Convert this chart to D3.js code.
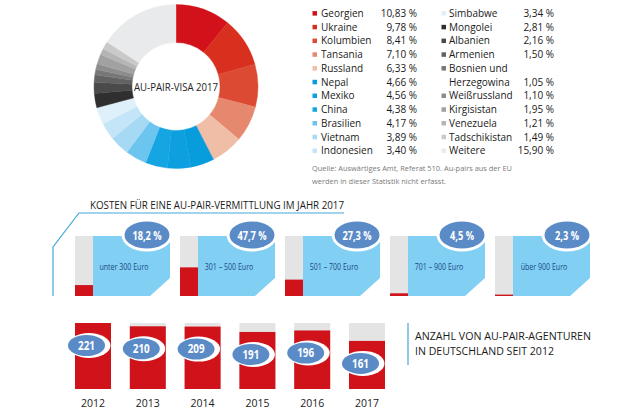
<!DOCTYPE html>
<html>
<head>
<meta charset="utf-8">
<script src="https://cdn.jsdelivr.net/npm/d3@7"></script>
<style>
  body { margin: 0; background: #fff; }
  text { font-family: "Open Sans", sans-serif; }
</style>
</head>
<body>
<svg id="chart" width="630" height="412"></svg>
<script>
// Au-pair visa 2017, share by country (%)
const countries = ["Georgien", "Ukraine", "Kolumbien", "Tansania", "Russland", "Nepal", "Mexiko",
    "China", "Brasilien", "Vietnam", "Indonesien", "Simbabwe", "Mongolei", "Albanien", "Armenien",
    "Bosnien und Herzegowina", "Weißrussland", "Kirgisistan", "Venezuela", "Tadschikistan", "Weitere"];
const visaShare = [10.83, 9.78, 8.41, 7.10, 6.33, 4.66, 4.56, 4.38, 4.17, 3.89, 3.40, 3.34, 2.81,
    2.16, 1.50, 1.05, 1.10, 1.95, 1.21, 1.49, 15.90];

// cost of an au-pair placement 2017 (% of agencies)
const costBands = ["unter 300 Euro", "301 – 500 Euro", "501 – 700 Euro", "701 – 900 Euro", "über 900 Euro"];
const costShare = [18.2, 47.7, 27.3, 4.5, 2.3];

// number of au-pair agencies
const years = ["2012", "2013", "2014", "2015", "2016", "2017"];
const agencies = [221, 210, 209, 191, 196, 161];

// one colour per country slice
const palette = ["#d3111b", "#d82f1f", "#dc4a33", "#e6886d", "#f0bea7", "#079cdc", "#0d9fdf",
    "#16a5e3", "#6cc5ef", "#a6d9f3", "#c3e5f7", "#def0fa", "#2f2f2f", "#4a4a4a", "#626262",
    "#787878", "#8d8d8d", "#a1a1a1", "#b5b5b5", "#c9c9c9", "#e9eaeb"];

const RED = "#d0121b", GREY = "#e4e4e4", SKY = "#82cff4", BADGE = "#5b8bc7", LINE = "#43a8da";

const de = d3.formatLocale({decimal: ",", thousands: ".", grouping: [3], currency: ["", " €"]});
const pct2 = v => de.format(".2f")(v) + " %";
const pct1 = v => de.format(".1f")(v) + " %";

const svg = d3.select("#chart");

// squeeze text horizontally (the original uses a condensed face)
function condense(sel, k) {
    sel.each(function () {
        const w = this.getComputedTextLength();
        d3.select(this).attr("textLength", w * k).attr("lengthAdjust", "spacingAndGlyphs");
    });
}

//Donut
const visa = countries.map((c, i) => ({name: c, value: visaShare[i], color: palette[i]}));
const pie = d3.pie().sort(null).value(d => d.value);
const arc = d3.arc().innerRadius(44).outerRadius(82);

const donut = svg.append("g").attr("transform", "translate(176,86.5)");
donut.selectAll("path").data(pie(visa)).join("path")
    .attr("d", arc)
    .attr("fill", d => d.data.color)
    .attr("stroke", d => d.data.color)
    .attr("stroke-width", 0.4);

donut.append("text")
    .attr("y", 4)
    .attr("text-anchor", "middle")
    .attr("font-size", 11.5)
    .attr("fill", "#222")
    .attr("textLength", 84).attr("lengthAdjust", "spacingAndGlyphs")
    .text("AU-PAIR-VISA 2017");

//Legend - two columns, long names wrap onto a second row
const rowY = d3.scaleLinear().domain([0, 10]).range([13.3, 150.7]);
const cols = [
    {sq: 312.5, label: 321, value: 417},
    {sq: 441.5, label: 449, value: 554}
];
let entries = [];
let col = 0, row = 0;
visa.forEach((d, i) => {
    if (i === 11) { col = 1; row = 0; }
    let lines = [d.name];
    if (d.name.length > 14) {
        const cut = d.name.lastIndexOf(" ");
        lines = [d.name.slice(0, cut), d.name.slice(cut + 1)];
    }
    entries.push({d: d, col: col, row: row, lines: lines});
    row += lines.length;
});

const legend = svg.append("g").attr("font-size", 10).attr("fill", "#1a1a1a");
const items = legend.selectAll("g").data(entries).join("g");
items.append("rect")
    .attr("x", e => cols[e.col].sq)
    .attr("y", e => rowY(e.row) - 2.2)
    .attr("width", 4.5).attr("height", 4.5)
    .attr("fill", e => e.d.color);
items.each(function (e) {
    const g = d3.select(this);
    e.lines.forEach((l, k) => {
        g.append("text")
            .attr("x", cols[e.col].label)
            .attr("y", rowY(e.row + k) + 3.6)
            .text(l);
    });
    g.append("text")
        .attr("x", cols[e.col].value)
        .attr("y", rowY(e.row + e.lines.length - 1) + 3.6)
        .attr("text-anchor", "end")
        .text(pct2(e.d.value));
});

const src = svg.append("g").attr("font-size", 7.5).attr("fill", "#7a7a7a");
src.append("text").attr("x", 312).attr("y", 171)
    .attr("textLength", 200).attr("lengthAdjust", "spacingAndGlyphs")
    .text("Quelle: Auswärtiges Amt, Referat 510. Au-pairs aus der EU");
src.append("text").attr("x", 312).attr("y", 184)
    .attr("textLength", 134).attr("lengthAdjust", "spacingAndGlyphs")
    .text("werden in dieser Statistik nicht erfasst.");

//Costs
svg.append("path")
    .attr("d", "M53,296V247L79,213H344")
    .attr("fill", "none").attr("stroke", LINE).attr("stroke-width", 1.2);
svg.append("text")
    .attr("x", 90).attr("y", 209)
    .attr("font-size", 10.5).attr("fill", "#1a1a1a")
    .attr("textLength", 254).attr("lengthAdjust", "spacingAndGlyphs")
    .text("KOSTEN FÜR EINE AU-PAIR-VERMITTLUNG IM JAHR 2017");

const costs = costBands.map((b, i) => ({band: b, value: costShare[i]}));
const xCost = d3.scaleBand().domain(costBands).range([75, 590]).paddingInner(10 / 105);
const yCost = d3.scaleLinear().domain([0, 100]).range([296, 236]);
const barW = 18;

const panels = svg.selectAll("g.cost").data(costs).join("g").classed("cost", true)
    .attr("transform", d => `translate(${xCost(d.band)},0)`);

panels.append("path")
    .attr("d", () => {
        const x0 = barW, x1 = xCost.bandwidth(), t = yCost(100), b = yCost(0);
        return `M${x0},${t}H${x1}V${b - 18}L${x1 - 20},${b}H${x0}Z`;
    })
    .attr("fill", SKY);
panels.append("rect")
    .attr("width", barW).attr("y", yCost(100)).attr("height", yCost(0) - yCost(100))
    .attr("fill", GREY);
panels.append("rect")
    .attr("width", barW).attr("y", d => yCost(d.value)).attr("height", d => yCost(0) - yCost(d.value))
    .attr("fill", RED);
panels.append("text")
    .attr("x", 49).attr("y", 270)
    .attr("text-anchor", "middle")
    .attr("font-size", 8.2).attr("fill", "#1b4a86")
    .text(d => d.band)
    .call(condense, 0.86);
panels.append("ellipse")
    .attr("cx", 72).attr("cy", 235).attr("rx", 25.5).attr("ry", 16.5)
    .attr("fill", "#fff");
panels.append("ellipse")
    .attr("cx", 72).attr("cy", 235).attr("rx", 22.5).attr("ry", 13.5)
    .attr("fill", BADGE);
panels.append("text")
    .attr("x", 72).attr("y", 239.5)
    .attr("text-anchor", "middle")
    .attr("font-size", 12.5).attr("font-weight", "bold").attr("fill", "#fff")
    .text(d => pct1(d.value))
    .call(condense, 0.74);

//Agencies
const agency = years.map((y, i) => ({year: y, value: agencies[i]}));
const xYear = d3.scaleBand().domain(years).range([75, 385]).paddingInner(18.8 / 54.8);
const yAg = d3.scaleLinear().domain([0, d3.max(agencies)]).range([389, 323]);

const bars = svg.selectAll("g.year").data(agency).join("g").classed("year", true)
    .attr("transform", d => `translate(${xYear(d.year)},0)`);
const bw = xYear.bandwidth();

bars.append("rect")
    .attr("width", bw).attr("y", yAg(d3.max(agencies))).attr("height", yAg(0) - yAg(d3.max(agencies)))
    .attr("fill", GREY);
bars.append("rect")
    .attr("width", bw).attr("y", d => yAg(d.value)).attr("height", d => yAg(0) - yAg(d.value))
    .attr("fill", RED);
bars.append("ellipse")
    .attr("cx", bw / 2 - 4).attr("cy", d => yAg(d.value) + 22.5)
    .attr("rx", 21.5).attr("ry", 12.5)
    .attr("fill", "#fff");
bars.append("ellipse")
    .attr("cx", bw / 2 - 6.5).attr("cy", d => yAg(d.value) + 22.5)
    .attr("rx", 18.5).attr("ry", 10.5)
    .attr("fill", BADGE);
bars.append("text")
    .attr("x", bw / 2 - 6.5).attr("y", d => yAg(d.value) + 26.8)
    .attr("text-anchor", "middle")
    .attr("font-size", 12).attr("font-weight", "bold").attr("fill", "#fff")
    .text(d => d.value)
    .call(condense, 0.82);
bars.append("text")
    .attr("x", bw / 2).attr("y", 407)
    .attr("text-anchor", "middle")
    .attr("font-size", 10.5).attr("fill", "#222")
    .text(d => d.year);

svg.append("line")
    .attr("x1", 408).attr("x2", 408).attr("y1", 323).attr("y2", 365)
    .attr("stroke", LINE).attr("stroke-width", 1.2);
const head = svg.append("g").attr("font-size", 10.5).attr("fill", "#1a1a1a");
head.append("text").attr("x", 415).attr("y", 340)
    .attr("textLength", 176).attr("lengthAdjust", "spacingAndGlyphs")
    .text("ANZAHL VON AU-PAIR-AGENTUREN");
head.append("text").attr("x", 415).attr("y", 354.5)
    .attr("textLength", 139).attr("lengthAdjust", "spacingAndGlyphs")
    .text("IN DEUTSCHLAND SEIT 2012");
</script>
</body>
</html>
